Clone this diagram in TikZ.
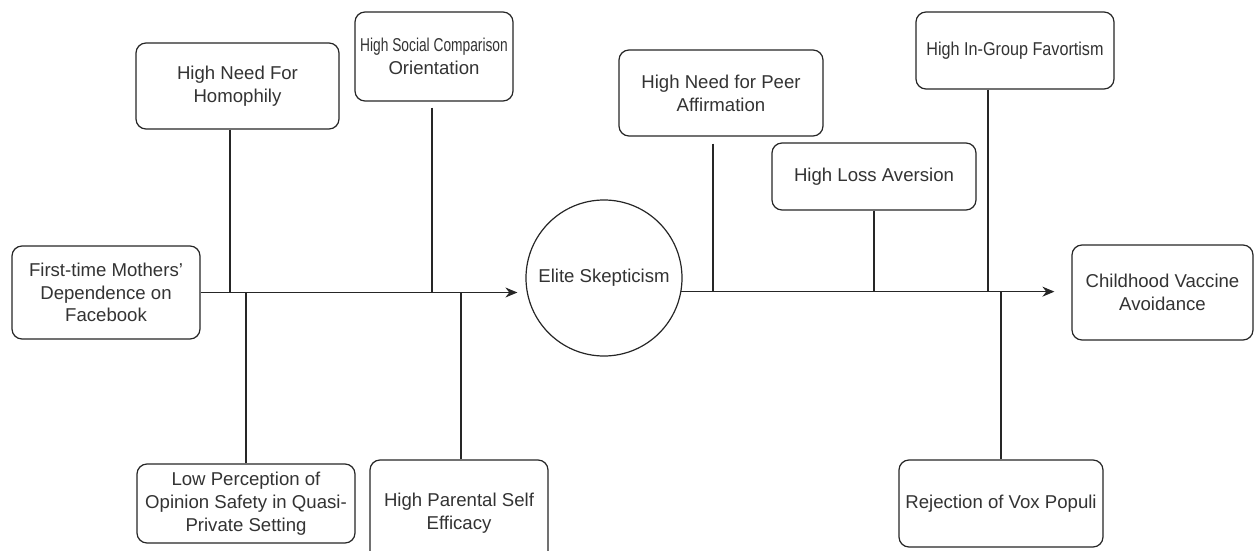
\documentclass[tikz,border=0pt]{standalone}
\usepackage{graphicx}
\usepackage{fontspec}
\setmainfont{Liberation Sans}
\usetikzlibrary{arrows.meta}
\tikzset{
    factor-box/.style = {draw=black!85, fill=white, line width=0.6pt, rectangle, rounded corners=5pt, inner sep=2pt, align=center, text=black!80, font=\fontsize{9.3}{11.4}\selectfont},
    elite-circle/.style = {draw=black!85, fill=white, line width=0.6pt, circle, minimum size=78pt, inner sep=0pt, text=black!80, font=\fontsize{9.3}{11.4}\selectfont},
    branch-line/.style = {draw=black!85, line width=0.6pt},
    spine-arrow/.style = {draw=black!85, line width=0.6pt, -{Stealth[length=6pt, width=5pt]}},
}

\begin{document}
\begin{tikzpicture}[x=0.5pt, y=-0.5pt]
\useasboundingbox (0,0) rectangle (1254,551);
% left half
\node [factor-box, minimum width=94pt, minimum height=46.5pt] (mothers) at (106,292.5) {First-time Mothers'\\Dependence on\\Facebook};
\node [factor-box, minimum width=101.5pt, minimum height=43pt] (homophily) at (237.5,86) {High Need For\\Homophily};
\node [factor-box, inner sep=0pt, minimum width=79pt, minimum height=44.5pt] (comparison) at (434,56.5) {\scalebox{0.74}[1]{High Social Comparison}\\Orientation};
\node [factor-box, minimum width=109pt, minimum height=39.5pt] (safety) at (246,503.5) {Low Perception of\\Opinion Safety in Quasi-\\Private Setting};
\node [factor-box, minimum width=89pt, minimum height=53pt] (efficacy) at (459,513) {High Parental Self\\Efficacy};
\node [elite-circle] (elite) at (604,278) {Elite Skepticism};
% right half
\node [factor-box, minimum width=102pt, minimum height=43pt] (peer) at (721,93) {High Need for Peer\\Affirmation};
\node [factor-box, minimum width=102pt, minimum height=33.5pt] (loss) at (874,176.5) {High Loss Aversion};
\node [factor-box, inner sep=0pt, minimum width=99pt, minimum height=38.5pt] (ingroup) at (1015,50.5) {\scalebox{0.87}[1]{High In-Group Favortism}};
\node [factor-box, minimum width=102pt, minimum height=43.5pt] (vox) at (1001,503.5) {Rejection of Vox Populi};
\node [factor-box, minimum width=90.5pt, minimum height=47.5pt] (avoidance) at (1162.5,292.5) {Childhood Vaccine\\Avoidance};

% spines
\draw [spine-arrow, shorten >=4pt] (mothers.east) -- (mothers.east -| elite.west);
\draw [spine-arrow, shorten >=8.5pt] (elite.-10) -- (elite.-10 -| avoidance.west);

% branches
\draw [branch-line] ([xshift=-3.75pt]homophily.south) -- ([xshift=-3.75pt]homophily.south |- mothers.east);
\draw [branch-line, shorten <=3pt] ([xshift=-1pt]comparison.south) -- ([xshift=-1pt]comparison.south |- mothers.east);
\draw [branch-line] (safety.north) -- (safety.north |- mothers.east);
\draw [branch-line] ([xshift=1pt]efficacy.north) -- ([xshift=1pt]efficacy.north |- mothers.east);
\draw [branch-line, shorten <=3.5pt] ([xshift=-4pt]peer.south) -- ([xshift=-4pt]peer.south |- elite.-10);
\draw [branch-line] (loss.south) -- (loss.south |- elite.-10);
\draw [branch-line] ([xshift=-13.5pt]ingroup.south) -- ([xshift=-13.5pt]ingroup.south |- elite.-10);
\draw [branch-line] (vox.north) -- (vox.north |- elite.-10);
\end{tikzpicture}
\end{document}
